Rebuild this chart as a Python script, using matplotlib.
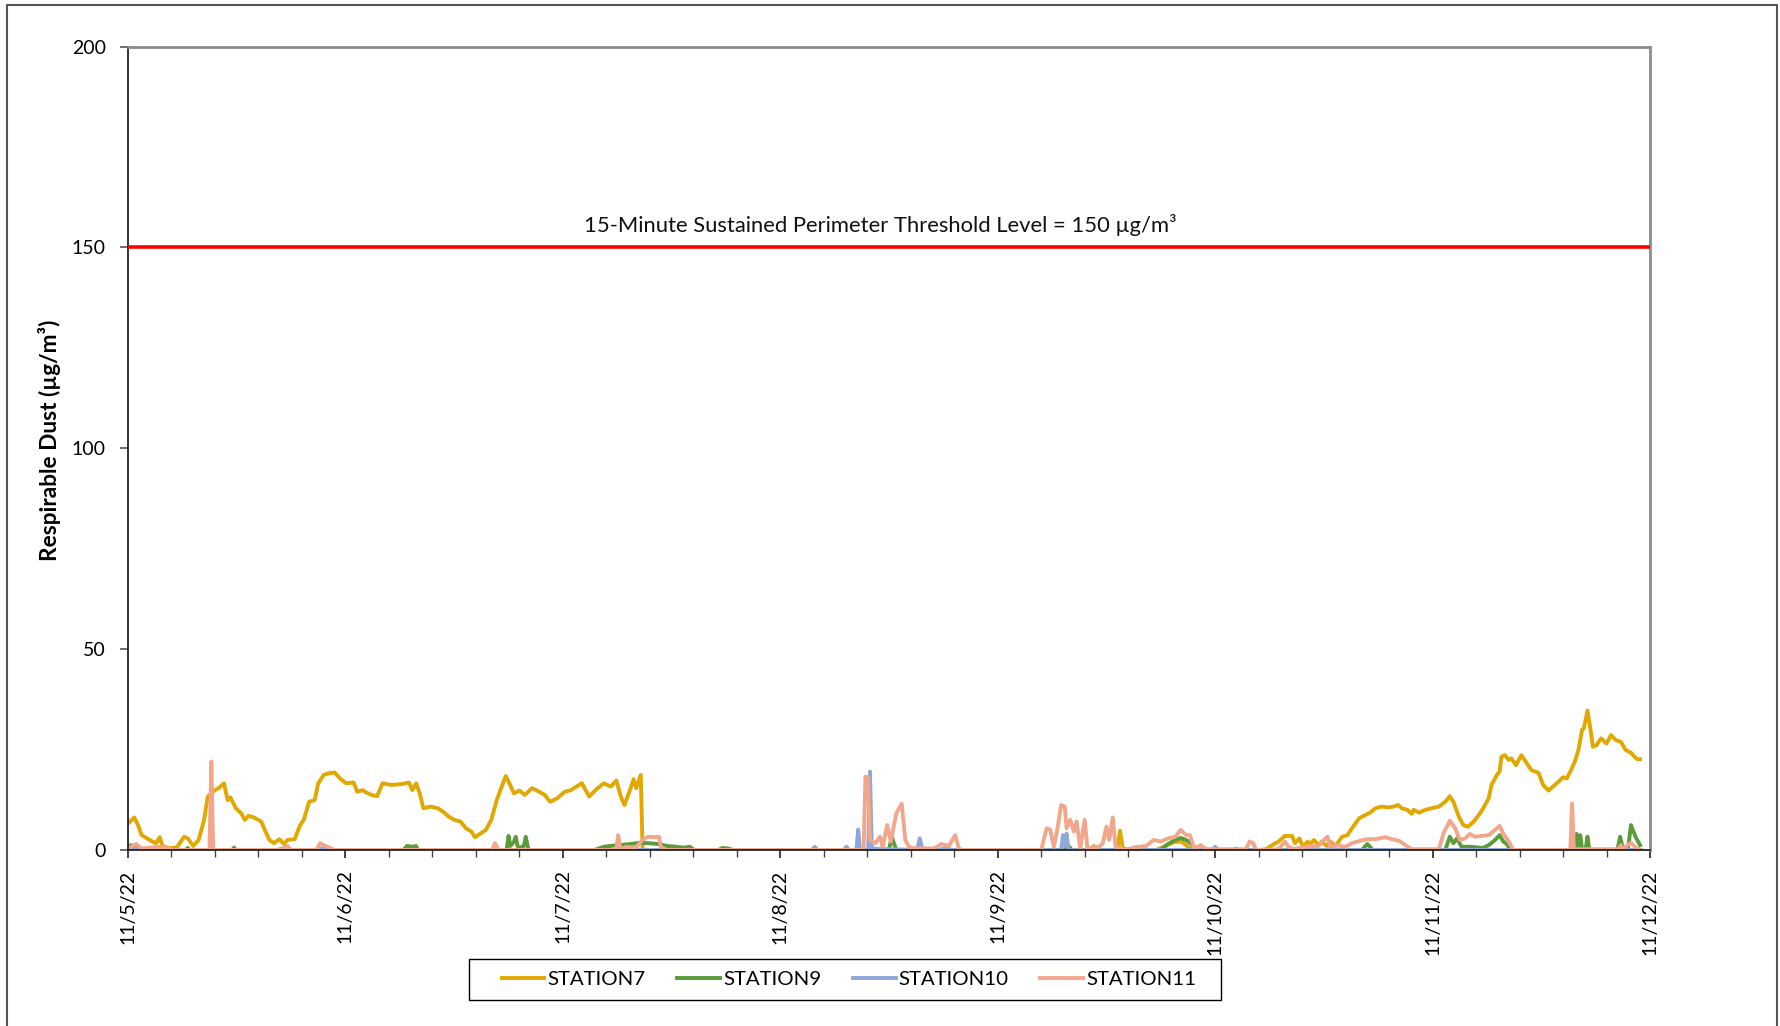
import numpy as np
import pandas as pd
import matplotlib
matplotlib.use("Agg")
import matplotlib.pyplot as plt
import matplotlib.dates as mdates
from matplotlib.ticker import MultipleLocator, FuncFormatter
from matplotlib.patches import Rectangle

plt.rcParams['font.family'] = ['Lato', 'DejaVu Sans']

START = pd.Timestamp("2022-11-05")

# ---- data: hours since 11/5/22 00:00 and readings (ug/m3) ----
s7_hours = [0, 0.7, 1.1, 1.5, 2.1, 2.7, 3.1, 3.5, 3.8, 4.6, 5.4, 6.2, 6.6, 7.2, 7.8, 8.4, 8.8, 9.2, 9.6, 10.0,
            10.6, 11.0, 11.3, 11.9, 12.5, 12.9, 13.3, 13.9, 14.7, 15.1, 15.6, 16.1, 16.7, 17.2, 17.6, 18.4, 19.0,
            19.4, 20.0, 20.6, 21.0, 21.6, 22.2, 22.8, 23.4, 24.1, 24.9, 25.3, 25.9, 26.3, 26.9, 27.5, 28.1, 29.1,
            30.2, 31.0, 31.4, 31.8, 32.2, 32.6, 33.4, 34.2, 34.8, 35.4, 36.0, 36.7, 37.3, 37.9, 38.3, 38.9, 39.5,
            40.1, 40.7, 41.1, 41.7, 42.1, 42.6, 43.2, 43.8, 44.6, 45.4, 46.0, 46.6, 47.4, 48.2, 48.9, 49.5, 50.1,
            50.9, 51.7, 52.5, 53.3, 53.9, 54.4, 54.8, 55.4, 55.8, 56.1, 56.6, 56.8, 60.0, 104.0, 106.3, 106.6,
            106.9, 109.2, 109.5, 109.8, 110.3, 113.5, 114.5, 115.5, 116.3, 117.0, 117.5, 125.0, 125.6, 126.5,
            127.0, 127.7, 128.5, 128.8, 129.3, 129.7, 130.2, 130.5, 130.9, 131.4, 131.8, 132.3, 132.7, 133.3,
            134.0, 134.6, 135.1, 135.9, 136.6, 137.1, 137.7, 138.4, 139.1, 139.7, 140.2, 140.6, 141.2, 141.7,
            141.9, 142.5, 143.2, 143.9, 144.7, 145.4, 145.9, 146.3, 146.9, 147.4, 147.9, 148.5, 149.1, 149.6,
            150.2, 150.5, 151.1, 151.4, 151.6, 152.0, 152.4, 152.7, 153.2, 153.8, 154.4, 154.9, 155.7, 156.2,
            156.8, 157.3, 157.9, 158.4, 158.8, 159.2, 159.7, 160.1, 160.5, 160.7, 161.1, 161.5, 161.7, 162.1,
            162.6, 163.2, 163.7, 164.2, 164.8, 165.3, 165.9, 166.3, 166.6, 166.9]
s7_vals = [6.6, 8.1, 6.2, 3.7, 2.9, 2.1, 1.7, 3.2, 1.0, 0.4, 0.7, 3.3, 2.9, 1.0, 2.5, 7.5, 13.3, 14.1, 14.9, 15.4,
           16.6, 12.4, 13.1, 10.4, 9.1, 7.5, 8.5, 8.1, 7.1, 5.0, 2.5, 1.7, 2.7, 1.5, 2.5, 2.7, 6.2,
           7.5, 12.0, 12.4, 16.6, 18.7, 19.1, 19.3, 17.8, 16.6, 16.8, 14.5, 14.9, 14.3, 13.7, 13.4, 16.6, 16.2,
           16.4, 16.8, 14.9, 16.6, 14.1, 10.4, 10.8, 10.4, 9.5, 8.3, 7.5, 7.1, 5.4, 4.6, 3.2, 4.1, 5.0,
           7.5, 12.4, 14.9, 18.4, 16.6, 14.1, 14.8, 13.7, 15.4, 14.5, 13.7, 12.0, 12.9, 14.5, 14.9, 15.8, 16.6,
           13.3, 15.1, 16.6, 15.8, 17.3, 13.3, 11.2, 14.9, 17.6, 15.4, 18.7, 0.0, 0.0, 0.0, 0.0, 1.0,
           0.0, 0.0, 4.8, 0.5, 0.0, 0.0, 1.0, 2.0, 2.1, 0.8, 0.0, 0.0, 0.2, 1.5,
           2.1, 3.5, 3.5, 1.7, 2.9, 0.8, 2.1, 1.5, 2.5, 1.2, 2.1, 1.0, 2.1, 1.0,
           3.3, 3.7, 5.4, 7.9, 8.7, 9.3, 10.4, 10.8, 10.6, 10.8, 11.2, 10.4, 10.0, 9.0,
           10.0, 9.3, 10.0, 10.4, 10.8, 12.0, 13.4, 12.0, 8.3, 6.2, 5.8, 7.0, 8.7, 10.4,
           12.9, 16.2, 18.7, 19.5, 23.2, 23.6, 22.4, 22.8, 21.1, 23.6, 21.6, 19.9, 19.2, 16.2,
           14.8, 15.8, 17.0, 18.1, 17.8, 19.5, 22.0, 24.9, 29.9, 30.3, 34.7, 29.0, 25.7, 26.1,
           27.8, 26.5, 28.6, 27.4, 26.9, 24.9, 24.2, 23.2, 22.6, 22.6]

s9_hours = [0, 0.3, 0.8, 1.5, 2.0, 6.4, 6.6, 6.8, 11.5, 11.7, 11.9, 30.4, 30.8, 31.4, 31.8, 32.0, 41.8, 42.0,
            42.2, 42.4, 42.6, 42.8, 43.0, 43.2, 43.7, 43.9, 44.2, 51.5, 52.5, 54.0, 55.5, 56.5, 57.4, 58.5, 59.5,
            60.5, 61.3, 62.0, 62.5, 65.2, 65.6, 66.2, 66.8, 84.0, 84.3, 84.8, 103.4, 103.8, 104.2, 114.0, 114.8,
            115.6, 116.2, 116.8, 117.4, 118.0, 136.2, 136.8, 137.4, 145.4, 145.9, 146.3, 146.7, 147.2, 148.3,
            149.5, 150.2, 150.9, 151.4, 151.8, 152.2, 152.6, 159.7, 159.9, 160.1, 160.3, 160.5, 160.9, 161.1,
            161.3, 164.4, 164.7, 165.0, 165.6, 165.9, 166.4, 166.9]
s9_vals = [0.5, 1.2, 0.8, 0.3, 0.0, 0.0, 0.5, 0.0, 0.0, 0.6, 0.0, 0.0, 1.0, 0.8, 1.0, 0.0, 0.0, 3.5,
           1.0, 1.5, 2.0, 3.3, 1.0, 0.5, 1.0, 3.3, 0.0, 0.0, 0.8, 1.2, 1.5, 1.8, 1.7, 1.5, 1.0,
           0.8, 0.6, 0.8, 0.0, 0.0, 0.5, 0.4, 0.0, 0.0, 3.3, 0.0, 0.0, 1.0, 0.0, 0.0, 1.5,
           2.5, 3.0, 2.5, 1.5, 0.0, 0.0, 1.5, 0.0, 0.0, 3.3, 1.7, 2.9, 0.8, 0.8,
           0.5, 1.2, 2.5, 3.7, 2.1, 1.5, 0.0, 0.0, 4.0, 0.3, 3.7, 0.3, 0.3, 3.3,
           0.0, 0.0, 3.3, 0.5, 0.8, 6.2, 3.3, 1.2]

s10_hours = [0, 0.5, 1.2, 16.5, 17.0, 17.5, 21.0, 21.6, 22.2, 75.5, 75.8, 76.1, 79.0, 79.3, 79.6, 80.4, 80.6,
             80.8, 81.7, 81.9, 82.1, 82.6, 87.1, 87.4, 87.7, 89.5, 90.2, 91.0, 103.0, 103.2, 103.4, 103.6,
             103.8, 119.7, 120.0, 120.3, 122.1, 122.3, 122.5, 167.0]
s10_vals = [0.0, 0.6, 0.0, 0.0, 0.4, 0.0, 0.0, 0.5, 0.0, 0.0, 0.8, 0.0, 0.0, 0.8, 0.0, 0.0, 5.1,
            0.0, 0.0, 19.5, 0.5, 0.3, 0.0, 2.9, 0.0, 0.0, 0.5, 0.0, 0.0, 3.7, 1.0, 4.1,
            0.0, 0.0, 0.8, 0.0, 0.0, 0.4, 0.0, 0.0]

s11_hours = [0, 0.9, 1.5, 3.5, 5.0, 9.0, 9.2, 9.4, 16.9, 17.6, 18.0, 20.8, 21.2, 21.8, 22.8, 40.2, 40.5, 40.9,
             53.9, 54.1, 54.4, 55.0, 56.0, 56.8, 57.4, 58.2, 58.6, 58.8, 59.4, 81.2, 81.4, 81.7, 81.9, 82.5,
             83.0, 83.3, 83.8, 84.2, 84.8, 85.4, 85.8, 86.2, 87.0, 89.0, 89.8, 90.6, 91.3, 91.7, 92.0, 100.8,
             101.4, 101.8, 102.2, 102.6, 103.0, 103.4, 103.6, 104.0, 104.4, 104.7, 105.1, 105.6, 105.9, 107.2,
             107.6, 108.0, 108.3, 108.7, 109.0, 110.0, 111.2, 112.4, 113.2, 114.0, 114.8, 115.6, 116.2, 116.8,
             117.2, 117.7, 118.4, 119.0, 123.4, 123.8, 124.2, 124.5, 127.0, 127.7, 128.1, 128.7, 129.9, 131.4,
             132.0, 132.4, 132.7, 133.3, 134.4, 135.1, 136.0, 136.8, 137.7, 138.8, 139.5, 140.3, 141.0, 141.7,
             144.7, 145.2, 145.9, 146.5, 147.0, 147.6, 148.1, 148.7, 149.4, 150.2, 150.9, 151.4, 151.8, 152.4,
             152.9, 159.2, 159.4, 159.6, 164.5, 164.8, 165.0, 165.9, 166.4, 166.9]
s11_vals = [0.4, 1.5, 0.4, 0.8, 0.0, 0.0, 22.0, 0.0, 0.0, 1.0, 0.0, 0.0, 1.7, 1.0, 0.0, 0.0, 1.7, 0.0,
            0.0, 3.7, 0.0, 0.8, 0.5, 2.5, 3.3, 3.2, 3.3, 0.8, 0.0, 0.0, 18.3, 17.8, 2.5, 1.7,
            3.3, 0.8, 6.2, 2.1, 9.1, 11.5, 2.5, 0.7, 0.4, 0.4, 1.5, 1.0, 3.7, 0.4, 0.0, 0.0,
            5.4, 5.0, 0.8, 5.4, 11.2, 10.8, 5.4, 7.5, 4.6, 7.1, 0.4, 7.5, 0.4, 0.8,
            1.7, 5.8, 2.5, 8.1, 0.8, 0.0, 0.7, 1.0, 2.5, 2.1, 2.9, 3.3, 5.0, 3.7,
            3.7, 0.4, 1.2, 0.2, 0.2, 2.1, 1.7, 0.0, 0.2, 2.1, 0.8, 0.2, 0.8, 1.0,
            2.5, 3.3, 0.8, 1.2, 0.8, 1.7, 2.3, 2.7, 2.7, 3.2, 2.7, 2.3, 1.2, 0.2,
            0.2, 4.1, 7.3, 5.4, 2.5, 2.9, 4.0, 3.3, 3.5, 3.7, 5.0, 6.0, 4.1, 2.1,
            0.0, 0.0, 11.6, 0.2, 0.2, 1.2, 0.2, 1.8, 0.7, 0.0]

series_names = ["STATION7", "STATION9", "STATION10", "STATION11"]
series_colors = ["#E0A800", "#5B9B3A", "#8FA8DA", "#F2A68C"]
threshold = 150
threshold_text = "15-Minute Sustained Perimeter Threshold Level = 150 µg/m³"
y_label = "Respirable Dust (µg/m³)"
y_ticks = [0, 50, 100, 150, 200]


def to_dates(hours):
    return START + pd.to_timedelta(np.asarray(hours, dtype=float), unit="h")


W, H = 1780, 1026
fig = plt.figure(figsize=(W / 100, H / 100), dpi=100)
ax = fig.add_axes([128 / W, 1 - 850 / H, (1650 - 128) / W, (850 - 46.5) / H])

all_h = [s7_hours, s9_hours, s10_hours, s11_hours]
all_v = [s7_vals, s9_vals, s10_vals, s11_vals]
lines = []
for h, v, name, c in zip(all_h, all_v, series_names, series_colors):
    ln, = ax.plot(to_dates(h), v, color=c, lw=2.8, label=name, solid_joinstyle="round")
    lines.append(ln)

ax.axhline(threshold, color="#FF0000", lw=2.6, zorder=5)
ax.text(START + pd.Timedelta(hours=83), 155.5, threshold_text, ha="center", va="center", fontsize=15.8,
        color="#111111")

ax.set_xlim(START, START + pd.Timedelta(days=7))
ax.set_ylim(0, 200)
ax.set_yticks(y_ticks)

ax.xaxis.set_major_locator(mdates.DayLocator())
ax.xaxis.set_minor_locator(MultipleLocator(0.2))


def fmt_date(x, pos=None):
    d = mdates.num2date(x)
    return f"{d.month}/{d.day}/{d.year % 100}"


ax.xaxis.set_major_formatter(FuncFormatter(fmt_date))
ax.tick_params(axis="x", which="major", direction="out", length=6, width=1.2, color="#222222",
               labelsize=14, labelrotation=90, pad=8)
ax.tick_params(axis="x", which="minor", direction="out", length=5, width=1.0, color="#444444")
ax.tick_params(axis="y", direction="out", length=6, width=1.2, color="#555555", labelsize=14, pad=10)

ax.set_ylabel(y_label, fontsize=16.3, fontweight="bold", labelpad=8)
ax.yaxis.label.set_y(0.51)

ax.spines["left"].set_color("#222222")
ax.spines["left"].set_linewidth(1.3)
ax.spines["bottom"].set_color("#222222")
ax.spines["bottom"].set_linewidth(1.3)
ax.spines["top"].set_color("#8C8C8C")
ax.spines["top"].set_linewidth(2.0)
ax.spines["right"].set_color("#8C8C8C")
ax.spines["right"].set_linewidth(2.0)

leg = fig.legend(handles=lines, loc="center", bbox_to_anchor=(849 / W, 1 - 979.5 / H), ncol=4,
                 fontsize=14.7, frameon=False, handlelength=2.1,
                 handletextpad=0.15, columnspacing=1.55)

# legend box (Excel-style, wider horizontal padding)
fig.patches.append(Rectangle((469 / W, 1 - 1000 / H), (1221 - 469) / W, (1000 - 959) / H,
                             transform=fig.transFigure, fill=False, edgecolor="#000000", lw=1.0))

# outer chart border
fig.patches.append(Rectangle((7 / W, -0.02), (1777 - 7) / W, 1.02 - 5 / H, transform=fig.transFigure,
                             fill=False, edgecolor="#555555", lw=1.5))

fig.savefig("out.png", dpi=100, facecolor="white")
